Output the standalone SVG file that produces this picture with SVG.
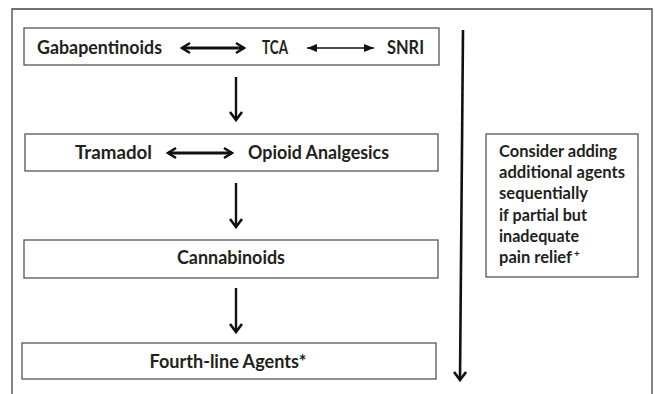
<svg xmlns="http://www.w3.org/2000/svg" width="655" height="394" viewBox="0 0 655 394">
<defs>
<style>
.box{fill:#fff;stroke:#555;stroke-width:1.3}
.t{font-family:Lato,"Open Sans","Liberation Sans",sans-serif;font-weight:bold;font-size:18px;fill:#231f20}
.n{font-family:Lato,"Open Sans","Liberation Sans",sans-serif;font-weight:bold;font-size:17px;fill:#231f20}
.sup{font-family:Lato,"Open Sans","Liberation Sans",sans-serif;font-weight:bold;font-size:10px;fill:#231f20}
.ln{stroke:#111;fill:none}
</style>
<marker id="chev" viewBox="0 0 12 12" refX="10" refY="6" markerWidth="12" markerHeight="12" markerUnits="userSpaceOnUse" orient="auto-start-reverse">
<path d="M2,1 L10,6 L2,11" fill="none" stroke="#111" stroke-width="2.4"/>
</marker>
<marker id="chevB" viewBox="0 0 12 14" refX="10" refY="7" markerWidth="12" markerHeight="14" markerUnits="userSpaceOnUse" orient="auto-start-reverse">
<path d="M2,1 L10,7 L2,13" fill="none" stroke="#111" stroke-width="2.6"/>
</marker>
<marker id="tri" viewBox="0 0 10 8" refX="10" refY="4" markerWidth="10" markerHeight="8" markerUnits="userSpaceOnUse" orient="auto-start-reverse">
<path d="M0,0 L10,4 L0,8 Z" fill="#111"/>
</marker>
</defs>
<rect width="655" height="394" fill="#fff"/>
<path id="frame" d="M12,394 V9 H652 V394" fill="none" stroke="#444" stroke-width="1.3"/>

<g id="first-line">
<rect class="box" x="24" y="28" width="415" height="37"/>
<text class="t" x="37" y="54" textLength="125" lengthAdjust="spacingAndGlyphs">Gabapentinoids</text>
<text class="t" x="262" y="54" textLength="26" lengthAdjust="spacingAndGlyphs">TCA</text>
<text class="t" x="387" y="54" textLength="37" lengthAdjust="spacingAndGlyphs">SNRI</text>
</g>
<g id="second-line">
<rect class="box" x="25" y="134" width="413" height="37"/>
<text class="t" x="75" y="159" textLength="77" lengthAdjust="spacingAndGlyphs">Tramadol</text>
<text class="t" x="248" y="159" textLength="141" lengthAdjust="spacingAndGlyphs">Opioid Analgesics</text>
</g>
<g id="third-line">
<rect class="box" x="24" y="240" width="414" height="38"/>
<text class="t" x="231" y="264" text-anchor="middle" textLength="108" lengthAdjust="spacingAndGlyphs">Cannabinoids</text>
</g>
<g id="fourth-line">
<rect class="box" x="22" y="343" width="414" height="36"/>
<text class="t" x="228" y="368" text-anchor="middle" textLength="157" lengthAdjust="spacingAndGlyphs">Fourth-line Agents*</text>
</g>
<g id="note">
<rect class="box" x="486" y="134" width="152" height="143"/>
<text class="n" x="499" y="157" textLength="118" lengthAdjust="spacingAndGlyphs">Consider adding</text>
<text class="n" x="499" y="178" textLength="126" lengthAdjust="spacingAndGlyphs">additional agents</text>
<text class="n" x="499" y="199" textLength="89" lengthAdjust="spacingAndGlyphs">sequentially</text>
<text class="n" x="499" y="221" textLength="88" lengthAdjust="spacingAndGlyphs">if partial but</text>
<text class="n" x="499" y="242" textLength="80" lengthAdjust="spacingAndGlyphs">inadequate</text>
<text class="n" x="499" y="263" textLength="73" lengthAdjust="spacingAndGlyphs">pain relief</text>
<text class="sup" x="574" y="257">+</text>
</g>

<g id="connectors">
<line class="ln" x1="182" y1="48" x2="244" y2="48" stroke-width="3" marker-start="url(#chev)" marker-end="url(#chev)"/>
<line class="ln" x1="307" y1="48" x2="374" y2="48" stroke-width="1.5" marker-start="url(#tri)" marker-end="url(#tri)"/>
<line class="ln" x1="168" y1="153" x2="232" y2="153" stroke-width="3" marker-start="url(#chev)" marker-end="url(#chev)"/>
<line class="ln" x1="236" y1="77" x2="236" y2="120" stroke-width="2.4" marker-end="url(#chevB)"/>
<line class="ln" x1="236" y1="183" x2="236" y2="227" stroke-width="2.4" marker-end="url(#chevB)"/>
<line class="ln" x1="236" y1="288" x2="236" y2="332" stroke-width="2.4" marker-end="url(#chevB)"/>
<line class="ln" x1="463" y1="30" x2="460" y2="380" stroke-width="2.6" marker-end="url(#chevB)"/>
</g>
</svg>
